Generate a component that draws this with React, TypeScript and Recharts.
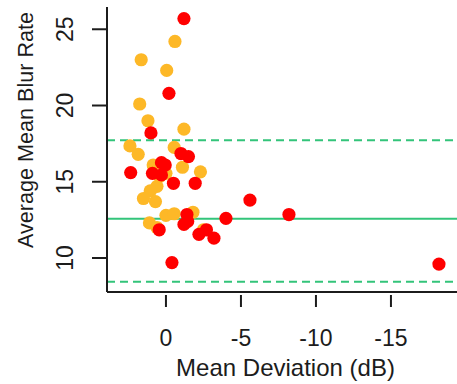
import React from 'react';
import {
  ReferenceLine,
  Scatter,
  ScatterChart,
  XAxis,
  YAxis,
} from 'recharts';

// Mean deviation (dB) and average mean blur rate
const redMD = [-1.2, -0.2, 1.0, -1.0, -1.5, 2.35, 0.3, 0.05, 0.9, 0.3, -0.5, -1.95, -1.4, -1.2, -1.45, 0.45, -2.2, -2.7, -3.2, -4.0, -5.6, -8.2, -0.4, -18.2];
const redMBR = [25.7, 20.8, 18.2, 16.85, 16.65, 15.6, 16.25, 16.1, 15.55, 15.45, 14.9, 14.9, 12.85, 12.2, 12.4, 11.85, 11.55, 11.85, 11.3, 12.6, 13.8, 12.85, 9.7, 9.6];

const orangeMD = [-0.6, 1.65, -0.05, 1.75, 1.2, -1.2, 2.4, 1.85, -0.55, -1.1, -2.3, 0.85, 0.4, 0.6, 1.05, 1.5, 0.7, 0.0, -0.55, -1.8, 1.1, 0.6, -2.5, 0.0];
const orangeMBR = [24.2, 23.0, 22.3, 20.1, 19.0, 18.45, 17.35, 16.8, 17.25, 15.95, 15.65, 16.1, 15.35, 14.7, 14.4, 13.9, 13.7, 12.8, 12.9, 13.0, 12.3, 12.0, 11.85, 15.55];

const xTicks = [0, -5, -10, -15];
const yTicks = [10, 15, 20, 25];

const meanLine = 12.58;
const upperLimit = 17.72;
const lowerLimit = 8.45;

const RED = '#FF0000';
const ORANGE = '#FDB827';
const GREEN = '#33C47A';
const INK = '#1c1c1c';
const FONT = '"Liberation Sans", Arial, sans-serif';

const redData = redMD.map((x, i) => ({ md: x, mbr: redMBR[i] }));
const orangeData = orangeMD.map((x, i) => ({ md: x, mbr: orangeMBR[i] }));

const dot = (fill: string) => (p: any) => (
  <circle cx={p.cx} cy={p.cy} r={6.6} fill={fill} />
);

const XTick = (p: any) => {
  const { x, y, payload } = p;
  return (
    <g>
      <line x1={x} x2={x} y1={y + 3} y2={y + 15} stroke={INK} strokeWidth={2} />
      <text x={x} y={y + 54} textAnchor="middle" fontSize={23} fontFamily={FONT} fill={INK}>
        {payload.value}
      </text>
    </g>
  );
};

const YTick = (p: any) => {
  const { x, y, payload } = p;
  const tx = x - 19;
  return (
    <text
      x={tx}
      y={y}
      transform={`rotate(-90 ${tx} ${y})`}
      textAnchor="middle"
      fontSize={23}
      fontFamily={FONT}
      fill={INK}
    >
      {payload.value}
    </text>
  );
};

export default function App() {
  return (
    <div style={{ position: 'absolute', left: 0, top: 0, width: 457, height: 384, overflow: 'hidden', background: '#fff' }}>
      <ScatterChart width={470} height={384} margin={{ top: 7, right: 6, left: 0, bottom: 0 }}>
        <XAxis
          xAxisId="top"
          orientation="top"
          type="number"
          dataKey="md"
          domain={[-19.87, 3.93]}
          reversed
          allowDataOverflow
          height={0}
          tick={false}
          tickLine={false}
          axisLine={{ stroke: INK, strokeWidth: 2 }}
        />
        <XAxis
          type="number"
          dataKey="md"
          domain={[-19.87, 3.93]}
          reversed
          allowDataOverflow
          ticks={xTicks}
          height={92}
          tickSize={0}
          tickMargin={0}
          tickLine={false}
          axisLine={{ stroke: INK, strokeWidth: 2 }}
          tick={<XTick />}
          label={{
            value: 'Mean Deviation (dB)',
            position: 'insideBottom',
            offset: 8,
            style: { fontSize: 24, fontFamily: FONT, fill: INK },
          }}
        />
        <YAxis
          type="number"
          dataKey="mbr"
          domain={[7.77, 26.46]}
          allowDataOverflow
          ticks={yTicks}
          width={107}
          tickSize={15}
          tickMargin={0}
          tickLine={{ stroke: INK, strokeWidth: 2 }}
          axisLine={{ stroke: INK, strokeWidth: 2 }}
          tick={<YTick />}
          label={{
            content: () => (
              <text
                x={33}
                y={130}
                transform="rotate(-90 33 130)"
                textAnchor="middle"
                fontSize={21.6}
                fontFamily={FONT}
                fill={INK}
              >
                Average Mean Blur Rate
              </text>
            ),
          }}
        />
        <Scatter data={orangeData} shape={dot(ORANGE)} isAnimationActive={false} />
        <Scatter data={redData} shape={dot(RED)} isAnimationActive={false} />
        <ReferenceLine y={meanLine} stroke={GREEN} strokeWidth={2} />
        <ReferenceLine y={upperLimit} stroke={GREEN} strokeWidth={2} strokeDasharray="8 5" />
        <ReferenceLine y={lowerLimit} stroke={GREEN} strokeWidth={2} strokeDasharray="8 5" />
      </ScatterChart>
    </div>
  );
}
